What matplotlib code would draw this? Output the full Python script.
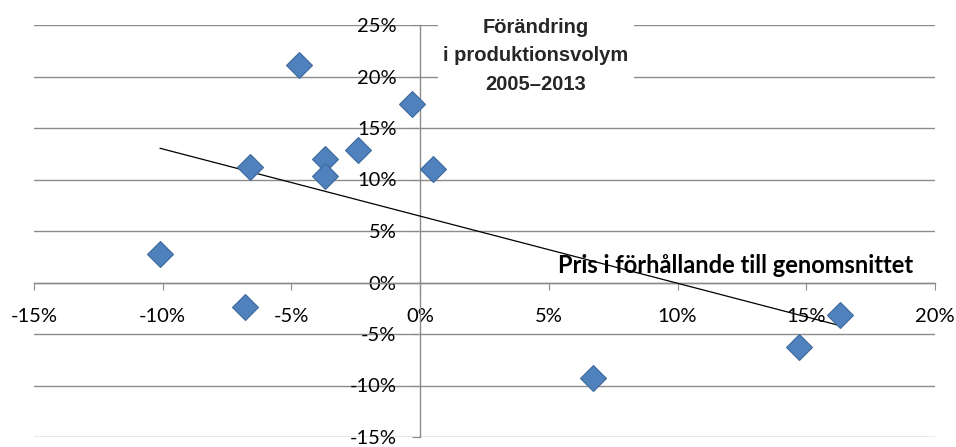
import numpy as np
import matplotlib.pyplot as plt
from matplotlib.ticker import FuncFormatter

# price relative to average (%) and change in production volume 2005-2013 (%)
pris = [-10.1, -6.8, -6.6, -4.7, -3.7, -3.7, -2.4, -0.3, 0.5, 6.7, 14.7, 16.3]
volym = [2.8, -2.4, 11.2, 21.1, 12.0, 10.3, 12.9, 17.3, 11.0, -9.3, -6.3, -3.2]

x_ticks = [-15, -10, -5, 0, 5, 10, 15, 20]
y_ticks = [-15, -10, -5, 0, 5, 10, 15, 20, 25]

GRAY = '#8c8c8c'

fig = plt.figure(figsize=(9.56, 4.47), dpi=100)
ax = fig.add_axes([34 / 956, 10 / 447, 901 / 956, 412 / 447])
ax.set_xlim(-15, 20)
ax.set_ylim(-15, 25)

for s in ['top', 'right']:
    ax.spines[s].set_visible(False)
ax.spines['left'].set_position(('data', 0))
ax.spines['bottom'].set_position(('data', 0))
for s in ['left', 'bottom']:
    ax.spines[s].set_color(GRAY)
    ax.spines[s].set_linewidth(1.0)

ax.set_xticks(x_ticks)
ax.set_yticks(y_ticks)
pct = FuncFormatter(lambda v, p: f'{v:.0f}%')
ax.xaxis.set_major_formatter(pct)
ax.yaxis.set_major_formatter(pct)
ax.tick_params(axis='x', direction='out', length=5, color=GRAY, pad=13,
               labelsize=14.5, labelcolor='black')
ax.tick_params(axis='y', direction='out', length=6, color=GRAY, pad=11,
               labelsize=14.5, labelcolor='black')
for lab in ax.get_xticklabels() + ax.get_yticklabels():
    lab.set_fontfamily('Lato')

ax.yaxis.grid(True, color=GRAY, linewidth=1.0)
ax.set_axisbelow(True)

# linear trend line over the data range
k, m = np.polyfit(pris, volym, 1)
xs = np.array([min(pris), max(pris)])
ax.plot(xs, k * xs + m, color='black', linewidth=0.9, zorder=3)

ax.plot(pris, volym, linestyle='none', marker='D', markersize=13,
        markerfacecolor='#4f81bd', markeredgecolor='#3f6a9c', markeredgewidth=0.8,
        zorder=4)

ax.text(4.5, 22.0, 'Förändring\ni produktionsvolym\n2005–2013', ha='center', va='center',
        fontsize=14.5, fontweight='bold', family='Liberation Sans', color='#262626',
        linespacing=1.62,
        bbox=dict(facecolor='white', edgecolor='none', pad=4), zorder=5)

ax.text(12.25, 1.65, 'Pris i förhållande till genomsnittet', ha='center', va='center',
        fontsize=17, fontweight='bold', family='Lato', color='black', zorder=2)

fig.savefig('out.png', dpi=100)
